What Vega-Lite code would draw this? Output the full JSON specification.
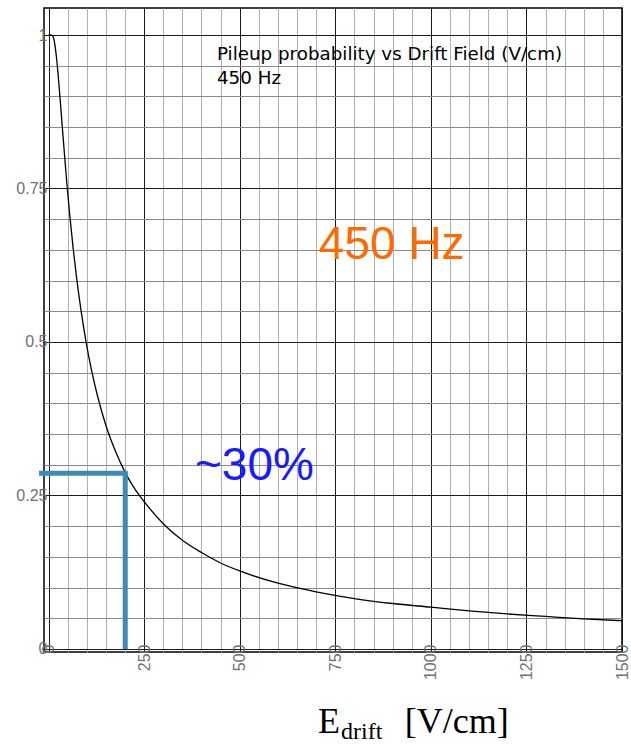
{
  "$schema": "https://vega.github.io/schema/vega-lite/v6.json",
  "width": 578,
  "height": 644,
  "autosize": {"type": "none"},
  "padding": {"left": 44, "top": 8, "right": 9, "bottom": 92},
  "background": "white",
  "config": {
    "view": {"stroke": "#000", "strokeWidth": 1.5},
    "axis": {"labelFont": "Liberation Sans", "labelFontSize": 16, "labelColor": "#707070", "ticks": false, "domain": false, "title": null, "gridWidth": 1}
  },
  "resolve": {"axis": {"x": "independent", "y": "independent"}},
  "layer": [
    {
      "data": {"values": [
        {"E": 0, "P": 1.0}, {"E": 5, "P": 1.0}, {"E": 10, "P": 0.999}, {"E": 13, "P": 0.995},
        {"E": 16, "P": 0.986}, {"E": 20, "P": 0.967}, {"E": 25, "P": 0.935}, {"E": 30, "P": 0.897},
        {"E": 36, "P": 0.849}, {"E": 42, "P": 0.802}, {"E": 48, "P": 0.757}, {"E": 55, "P": 0.709},
        {"E": 64, "P": 0.654}, {"E": 73, "P": 0.606}, {"E": 84, "P": 0.555}, {"E": 97, "P": 0.504},
        {"E": 112, "P": 0.455}, {"E": 128, "P": 0.412}, {"E": 150, "P": 0.364}, {"E": 175, "P": 0.322},
        {"E": 200, "P": 0.288}, {"E": 225, "P": 0.261}, {"E": 250, "P": 0.240}, {"E": 300, "P": 0.204},
        {"E": 350, "P": 0.177}, {"E": 400, "P": 0.157}, {"E": 450, "P": 0.140}, {"E": 500, "P": 0.127},
        {"E": 600, "P": 0.107}, {"E": 700, "P": 0.093}, {"E": 800, "P": 0.082}, {"E": 900, "P": 0.074},
        {"E": 1000, "P": 0.068}, {"E": 1100, "P": 0.062}, {"E": 1200, "P": 0.057}, {"E": 1300, "P": 0.053},
        {"E": 1400, "P": 0.049}, {"E": 1500, "P": 0.046}
      ]},
      "mark": {"type": "line", "color": "#000", "strokeWidth": 1.3, "interpolate": "monotone"},
      "encoding": {
        "x": {"field": "E", "type": "quantitative",
          "scale": {"domain": [-12, 1500], "nice": false, "zero": false},
          "axis": {
            "values": [0,50,100,150,200,250,300,350,400,450,500,550,600,650,700,750,800,850,900,950,1000,1050,1100,1150,1200,1250,1300,1350,1400,1450,1500],
            "grid": true,
            "gridColor": {"condition": {"test": "datum.value % 250 === 0", "value": "#1a1a1a"}, "value": "#b0b0b0"},
            "labelExpr": "datum.value % 250 === 0 ? datum.label : ''",
            "format": "d",
            "labelAngle": 270,
            "labelPadding": -8,
            "labelFontSize": 16,
            "labelBound": false,
            "labelOverlap": false
          }
        },
        "y": {"field": "P", "type": "quantitative",
          "scale": {"domain": [-0.005, 1.044], "nice": false, "zero": false},
          "axis": {
            "values": [0,0.05,0.1,0.15,0.2,0.25,0.3,0.35,0.4,0.45,0.5,0.55,0.6,0.65,0.7,0.75,0.8,0.85,0.9,0.95,1],
            "grid": true,
            "gridColor": {"condition": {"test": "abs(datum.value*4 - round(datum.value*4)) < 0.001", "value": "#1a1a1a"}, "value": "#8a8a8a"},
            "labelExpr": "abs(datum.value*4 - round(datum.value*4)) < 0.001 ? datum.label : ''",
            "format": "~g",
            "labelPadding": -3,
            "labelFontSize": 16,
            "labelOverlap": false
          }
        }
      }
    },
    {
      "data": {"values": [{}]},
      "mark": {"type": "rule", "color": "#3a8db0", "strokeWidth": 5},
      "encoding": {"x": {"datum": -25, "axis": null}, "x2": {"datum": 207}, "y": {"datum": 0.286, "axis": null}}
    },
    {
      "data": {"values": [{}]},
      "mark": {"type": "rule", "color": "#3a8db0", "strokeWidth": 5},
      "encoding": {"x": {"datum": 200.5, "axis": null}, "y": {"datum": 0, "axis": null}, "y2": {"datum": 0.288}}
    },
    {
      "data": {"values": [{}]},
      "mark": {"type": "text", "text": "Pileup probability vs Drift Field (V/cm)", "font": "DejaVu Sans", "fontSize": 18.3, "align": "left", "baseline": "alphabetic", "color": "#000"},
      "encoding": {"x": {"datum": 440.5, "axis": null}, "y": {"datum": 0.96, "axis": null}}
    },
    {
      "data": {"values": [{}]},
      "mark": {"type": "text", "text": "450 Hz", "font": "DejaVu Sans", "fontSize": 18.3, "align": "left", "baseline": "alphabetic", "color": "#000"},
      "encoding": {"x": {"datum": 440.5, "axis": null}, "y": {"datum": 0.921, "axis": null}}
    },
    {
      "data": {"values": [{}]},
      "mark": {"type": "text", "text": "450 Hz", "font": "Liberation Sans", "fontSize": 46, "align": "left", "baseline": "alphabetic", "color": "#ff6a00"},
      "encoding": {"x": {"datum": 707, "axis": null}, "y": {"datum": 0.6346, "axis": null}}
    },
    {
      "data": {"values": [{}]},
      "mark": {"type": "text", "text": "~30%", "font": "Liberation Sans", "fontSize": 46, "align": "left", "baseline": "alphabetic", "color": "#1a1aff"},
      "encoding": {"x": {"datum": 383, "axis": null}, "y": {"datum": 0.2751, "axis": null}}
    },
    {
      "data": {"values": [{}]},
      "mark": {"type": "text", "text": "E", "font": "Liberation Serif", "fontSize": 36, "align": "left", "baseline": "alphabetic", "color": "#000"},
      "encoding": {"x": {"datum": 704.7, "axis": null}, "y": {"datum": -0.137, "axis": null}}
    },
    {
      "data": {"values": [{}]},
      "mark": {"type": "text", "text": "drift", "font": "Liberation Serif", "fontSize": 24, "align": "left", "baseline": "alphabetic", "color": "#000"},
      "encoding": {"x": {"datum": 765, "axis": null}, "y": {"datum": -0.147, "axis": null}}
    },
    {
      "data": {"values": [{}]},
      "mark": {"type": "text", "text": "[V/cm]", "font": "Liberation Serif", "fontSize": 36, "align": "left", "baseline": "alphabetic", "color": "#000"},
      "encoding": {"x": {"datum": 932, "axis": null}, "y": {"datum": -0.137, "axis": null}}
    }
  ]
}
